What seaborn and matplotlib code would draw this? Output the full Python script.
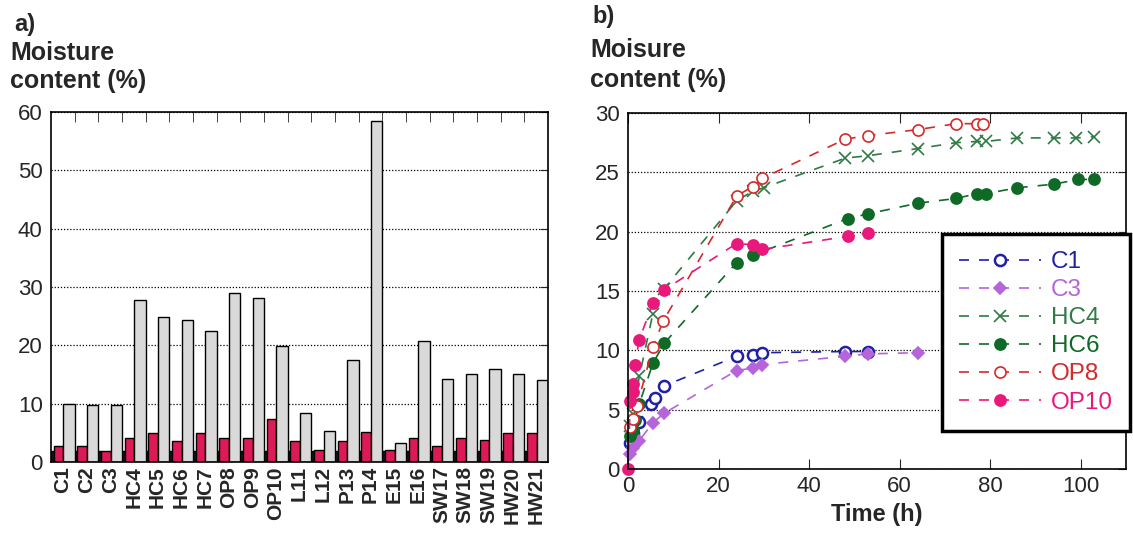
import numpy as np
import pandas as pd
import matplotlib
matplotlib.use('Agg')
import matplotlib.pyplot as plt
import seaborn as sns

# %%
# a) moisture content of each sample (three measurements per sample)
samples = ['C1', 'C2', 'C3', 'HC4', 'HC5', 'HC6', 'HC7', 'OP8', 'OP9', 'OP10', 'L11',
           'L12', 'P13', 'P14', 'E15', 'E16', 'SW17', 'SW18', 'SW19', 'HW20', 'HW21']
mc_dry = [1.9, 1.9, 1.9, 1.9, 1.9, 1.9, 1.9, 1.9, 1.9, 1.9, 1.9,
          1.9, 1.9, 1.9, 1.9, 1.9, 1.9, 1.9, 1.9, 1.9, 1.9]
mc_low = [2.7, 2.7, 1.9, 4.1, 4.9, 3.6, 4.9, 4.1, 4.1, 7.3, 3.6,
          2.1, 3.6, 5.1, 2.1, 4.1, 2.7, 4.1, 3.8, 4.9, 4.9]
mc_high = [10.0, 9.8, 9.8, 27.8, 24.9, 24.3, 22.4, 28.9, 28.1, 19.9, 8.4,
           5.4, 17.5, 58.5, 3.2, 20.8, 14.3, 15.1, 15.9, 15.1, 14.1]

# %%
# b) moisture uptake over time
c1_t = [0.5, 1, 2.5, 5, 6, 8, 24, 27.5, 29.5, 48, 53]
c1_v = [2.2, 3.0, 4.0, 5.5, 6.0, 7.0, 9.5, 9.6, 9.8, 9.9, 9.9]
c3_t = [0.5, 1, 2.5, 5.5, 8, 24, 27.5, 29.5, 48, 53, 64]
c3_v = [1.3, 1.8, 2.4, 3.9, 4.7, 8.3, 8.5, 8.8, 9.5, 9.7, 9.8]
hc4_t = [0.5, 1, 2.5, 5.5, 8, 24, 27.5, 30, 48, 53, 64, 72.5, 77, 79, 86, 94, 99, 103]
hc4_v = [3.6, 4.6, 7.8, 13.1, 15.2, 22.6, 23.4, 23.7, 26.2, 26.4, 27.0, 27.5, 27.6, 27.6,
         27.9, 27.9, 27.9, 28.0]
hc6_t = [0.5, 1, 1.5, 2.5, 5.5, 8, 24, 27.5, 48.5, 53, 64, 72.5, 77, 79, 86, 94, 99.5, 103]
hc6_v = [2.8, 3.3, 4.1, 5.5, 8.9, 10.6, 17.4, 18.0, 21.1, 21.5, 22.4, 22.8, 23.2, 23.2,
         23.7, 24.0, 24.4, 24.4]
op8_t = [0.5, 1, 2, 5.5, 7.8, 24, 27.5, 29.7, 48, 53, 64, 72.5, 77, 78.5]
op8_v = [3.5, 4.2, 5.3, 10.3, 12.5, 23.0, 23.8, 24.5, 27.8, 28.1, 28.6, 29.1, 29.1, 29.1]
op10_t = [0, 0.5, 1, 1, 1.5, 2.5, 5.5, 8, 24, 27.5, 29.5, 48.5, 53]
op10_v = [0, 5.7, 6.5, 7.2, 8.8, 10.9, 14.0, 15.1, 19.0, 18.9, 18.5, 19.6, 19.9]

series = [
    ('C1', c1_t, c1_v, '#1f1fa8', 'o', 'white', 1.8),
    ('C3', c3_t, c3_v, '#b565d9', 'D', '#b565d9', 1.2),
    ('HC4', hc4_t, hc4_v, '#2f7a45', 'x', '#2f7a45', 1.2),
    ('HC6', hc6_t, hc6_v, '#0e6a26', 'o', '#0e6a26', 1.2),
    ('OP8', op8_t, op8_v, '#d42a2a', 'o', 'white', 1.2),
    ('OP10', op10_t, op10_v, '#e8197a', 'o', '#e8197a', 1.2),
]

# %%
sns.set_style('white')
plt.rcParams['font.family'] = ['Liberation Sans', 'DejaVu Sans']

W, H = 1133, 537
fig = plt.figure(figsize=(W / 100, H / 100), dpi=100)
ax1 = fig.add_axes([51 / W, 1 - 462 / H, 497 / W, 350 / H])
ax2 = fig.add_axes([628 / W, 1 - 469 / H, 498 / W, 356 / H])

# ---- panel a ----
df = pd.DataFrame({
    'sample': samples * 3,
    'kind': ['dry'] * len(samples) + ['low'] * len(samples) + ['high'] * len(samples),
    'mc': mc_dry + mc_low + mc_high,
})
sns.barplot(data=df, x='sample', y='mc', hue='kind', hue_order=['dry', 'low', 'high'],
            palette=['#1a1a1a', '#dc1a55', '#d9d9d9'], saturation=1, width=1.0, gap=0,
            edgecolor='black', linewidth=1, legend=False, ax=ax1)
# narrow dark stub, red and grey bars fill the whole slot
offsets = [(-0.5, 0.11), (-0.39, 0.41), (0.02, 0.48)]
for cont, (off, w) in zip(ax1.containers, offsets):
    for j, p in enumerate(cont):
        p.set_x(j + off)
        p.set_width(w)

ax1.set_xlim(-0.5, len(samples) - 0.5)
ax1.set_ylim(0, 60)
ax1.set_yticks(range(0, 61, 10))
ax1.set_xlabel('')
ax1.set_ylabel('')
ax1.yaxis.grid(True, linestyle=(0, (1, 1.5)), color='black', linewidth=0.9)
ax1.set_axisbelow(True)
ax1.tick_params(axis='y', left=False, right=True, direction='in', length=6, labelsize=16,
                pad=6)
ax1.tick_params(axis='x', which='major', length=0, labelsize=15, labelrotation=90, pad=3)
for lab in ax1.get_xticklabels():
    lab.set_fontweight('bold')
ax1.set_xticks(np.arange(0.5, len(samples) - 1, 1), minor=True)
ax1.tick_params(axis='x', which='minor', bottom=False, top=True, direction='in', length=7)

# ---- panel b ----
for name, t, v, col, mk, fc, mew in series:
    sns.lineplot(x=t, y=v, ax=ax2, color=col, marker=mk, markersize=8 if mk != 'D' else 6,
                 markerfacecolor=fc, markeredgecolor=col, markeredgewidth=mew,
                 linestyle=(0, (6, 6)), linewidth=1.2, estimator=None, sort=False,
                 label=name, clip_on=False)

ax2.set_xlim(0, 110)
ax2.set_ylim(0, 30)
ax2.set_xticks(range(0, 101, 20))
ax2.set_yticks(range(0, 31, 5))
ax2.set_xlabel('Time (h)', fontsize=17, fontweight='bold', labelpad=4)
ax2.set_ylabel('')
ax2.yaxis.grid(True, linestyle=(0, (1, 1.5)), color='black', linewidth=0.9)
ax2.set_axisbelow(True)
ax2.tick_params(axis='x', top=True, bottom=True, direction='in', length=7, labelsize=16,
                pad=5)
ax2.tick_params(axis='y', left=False, right=True, direction='in', length=6, labelsize=16,
                pad=6)

handles, labels = ax2.get_legend_handles_labels()
leg = ax2.legend(handles, labels, loc='upper left', bbox_to_anchor=(0.63, 0.66),
                 borderaxespad=0, fontsize=17.5, frameon=True, fancybox=False,
                 framealpha=1, edgecolor='black', handlelength=3.4, handletextpad=0.4,
                 borderpad=0.7, labelspacing=0.25)
leg.get_frame().set_linewidth(2.5)
for txt, hd in zip(leg.get_texts(), handles):
    txt.set_color(hd.get_color())

for ax in (ax1, ax2):
    for s in ax.spines.values():
        s.set_color('black')
        s.set_linewidth(1.2)

# panel headings
fig.text(14 / W, 1 - 25 / H, 'a)', fontsize=17, fontweight='bold', va='center')
fig.text(10 / W, 1 - 53 / H, 'Moisture', fontsize=18, fontweight='bold', va='center')
fig.text(10 / W, 1 - 81 / H, 'content (%)', fontsize=18, fontweight='bold', va='center')
fig.text(592 / W, 1 - 17 / H, 'b)', fontsize=17, fontweight='bold', va='center')
fig.text(590 / W, 1 - 50 / H, 'Moisure', fontsize=18, fontweight='bold', va='center')
fig.text(590 / W, 1 - 80 / H, 'content (%)', fontsize=18, fontweight='bold', va='center')

fig.savefig('out.png', dpi=100)
